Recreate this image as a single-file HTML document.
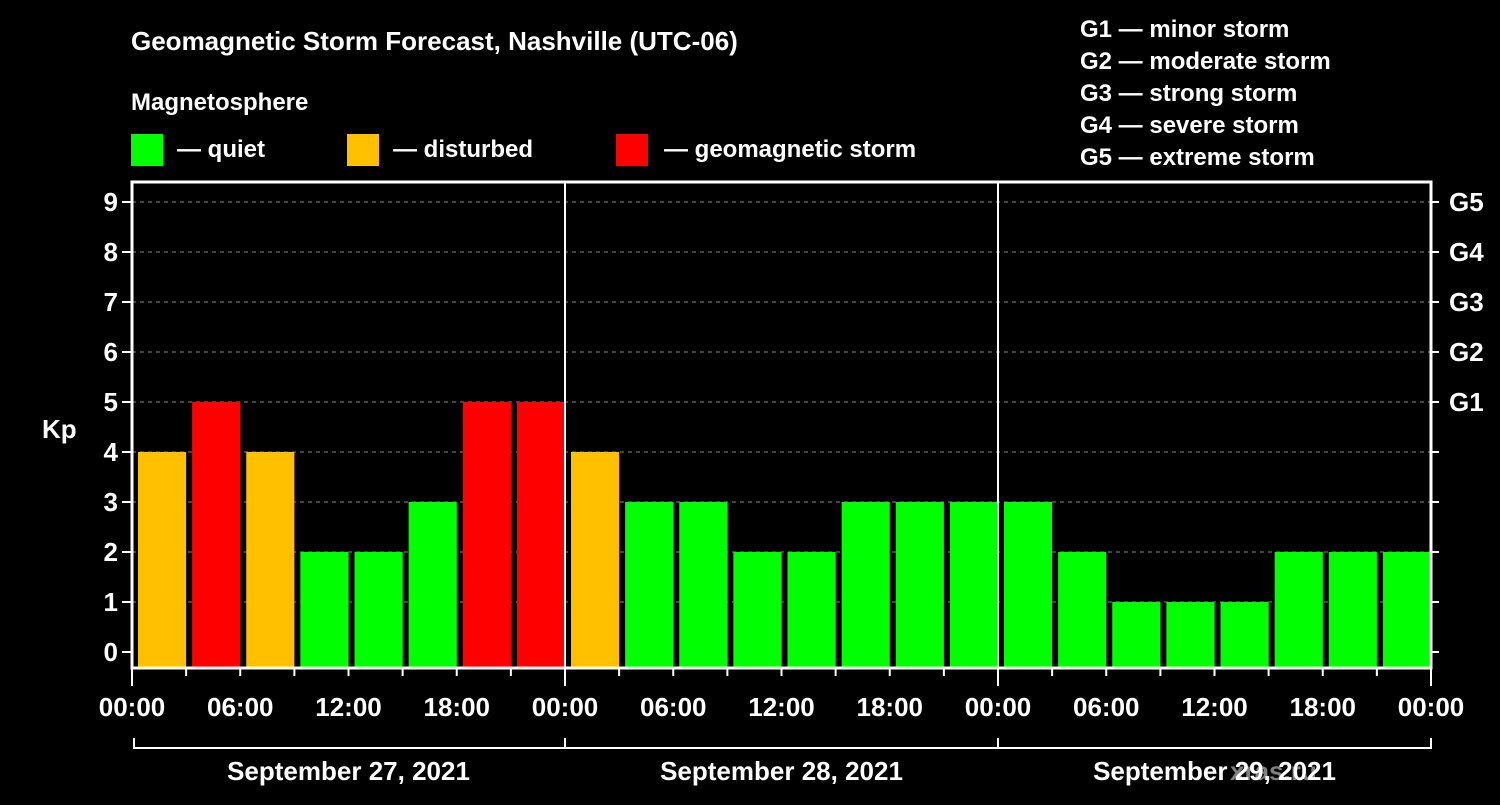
<!DOCTYPE html>
<html><head><meta charset="utf-8"><style>
body{margin:0;background:#000;width:1500px;height:800px;overflow:hidden}
svg text{font-family:"Liberation Sans",sans-serif;font-weight:bold;fill:#fff}
</style></head><body>
<svg id="c" width="1500" height="800">
<text x="131" y="50" font-size="26">Geomagnetic Storm Forecast, Nashville (UTC-06)</text>
<text x="131" y="110" font-size="24">Magnetosphere</text>
<g><rect x="131" y="134" width="32" height="32" fill="#00ff00"/><text x="177" y="157" font-size="24">— quiet</text></g>
<g><rect x="347" y="134" width="32" height="32" fill="#ffc000"/><text x="393" y="157" font-size="24">— disturbed</text></g>
<g><rect x="616" y="134" width="32" height="32" fill="#ff0000"/><text x="664" y="157" font-size="24">— geomagnetic storm</text></g>
<g font-size="24">
<text x="1080" y="37">G1 — minor storm</text><text x="1080" y="69">G2 — moderate storm</text><text x="1080" y="101">G3 — strong storm</text><text x="1080" y="133">G4 — severe storm</text><text x="1080" y="165">G5 — extreme storm</text></g>
<text x="42" y="438" font-size="26">Kp</text>
<text x="1230" y="780" font-size="26" fill="#808080" style="fill:#808080">xras.ru</text>
<g id="plot"></g>
</svg>
<script>
const values=[4,5,4,2,2,3,5,5, 4,3,3,2,2,3,3,3, 3,2,1,1,1,2,2,2];
const yTicks=[0,1,2,3,4,5,6,7,8,9];
const gLabels=["G1","G2","G3","G4","G5"];
const xLabels=["00:00","06:00","12:00","18:00","00:00","06:00","12:00","18:00","00:00","06:00","12:00","18:00","00:00"];
const days=["September 27, 2021","September 28, 2021","September 29, 2021"];
const L=132,R=1431,T=182,B=668;
const slot=(R-L)/values.length;
const y=v=>652-v*50;
const x=i=>L+i*slot;
const ns="http://www.w3.org/2000/svg";
const g=document.getElementById('plot');
function mk(t,a,p){const e=document.createElementNS(ns,t);for(const k in a)e.setAttribute(k,a[k]);(p||g).appendChild(e);return e;}
function col(v){return v>=5?'#ff0000':v>=4?'#ffc000':'#00ff00';}
yTicks.forEach(v=>{
 if(v>0){const l=mk('line',{x1:L,x2:R,y1:y(v),y2:y(v),stroke:'#888','stroke-dasharray':'4,4','stroke-width':1});
 
 }
 const t=mk('line',{x1:L-10,x2:L,y1:y(v),y2:y(v),stroke:'#fff','stroke-width':2});
 
 
 const t2=mk('line',{x1:R,x2:R+8,y1:y(v),y2:y(v),stroke:'#fff','stroke-width':2});
 
 
 const tx=mk('text',{x:L-14,y:y(v)+9,'font-size':26,'text-anchor':'end'});tx.textContent=v;
 
 
});
gLabels.forEach((s,i)=>{const tx=mk('text',{x:R+18,y:y(5+i)+9,'font-size':26});tx.textContent=s;
 
 });
values.forEach((v,i)=>{const r=mk('rect',{x:x(i)+6,y:y(v),width:slot-6,height:B-y(v),fill:col(v)});
 
 });
[1,2].forEach(d=>{const l=mk('line',{x1:x(d*8),x2:x(d*8),y1:T,y2:B,stroke:'#fff','stroke-width':2});
 
 });
const f=mk('rect',{x:L,y:T,width:R-L,height:B-T,fill:'none',stroke:'#fff','stroke-width':3});


for(let i=0;i<=values.length;i++){const big=i%8==0;
 const t=mk('line',{x1:x(i),x2:x(i),y1:B,y2:B+(big?18:8),stroke:'#fff','stroke-width':2});
 
 }
xLabels.forEach((s,i)=>{const tx=mk('text',{x:x(i*2),y:716,'font-size':26,'text-anchor':'middle'});tx.textContent=s;
 
 });
const br=mk('path',{d:`M${L+2},738 V748 H${R} V738 M${x(8)},738 V748 M${x(16)},738 V748`,stroke:'#fff','stroke-width':2,fill:'none'});


days.forEach((s,i)=>{const tx=mk('text',{x:(x(i*8)+x(i*8+8))/2,y:780,'font-size':26,'text-anchor':'middle'});tx.textContent=s;
 
 });
</script>
</body></html>
